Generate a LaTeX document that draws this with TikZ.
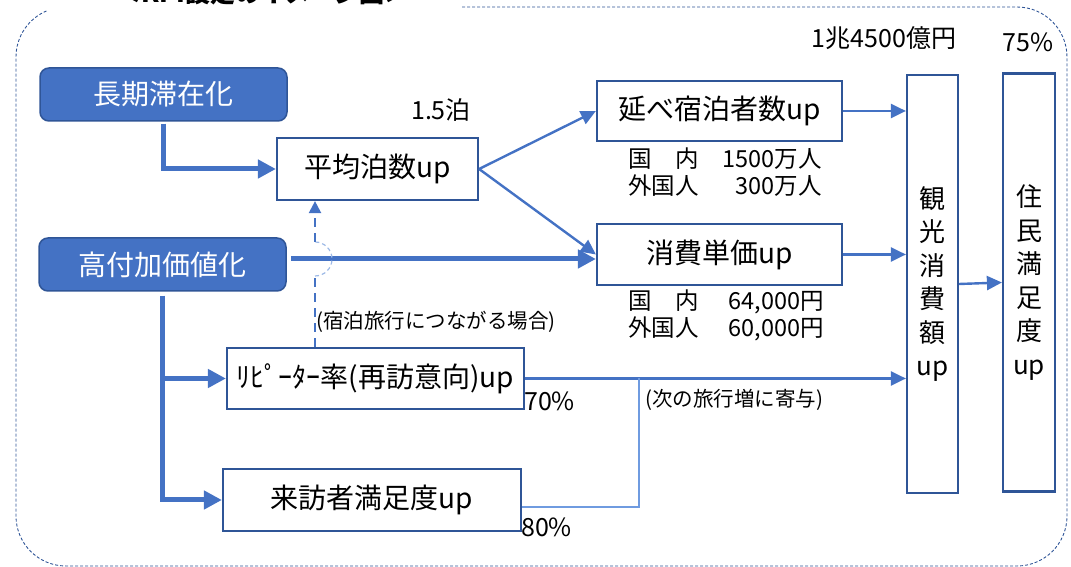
\documentclass[tikz,border=0pt]{standalone}
\usepackage{fontspec}
\setmainfont{Noto Sans CJK JP}
\usetikzlibrary{arrows.meta,calc}
\definecolor{kpiblue}{HTML}{4472C4}
\definecolor{kpiedge}{HTML}{2F5597}
\definecolor{kpilight}{HTML}{6F9BE0}
\definecolor{kpihop}{HTML}{9DB9E6}
\tikzset{
  keybox/.style={draw=kpiedge, line width=1.5pt, fill=kpiblue, rounded corners=9pt, text=white,
    minimum width=247pt, minimum height=53pt, font=\fontsize{28}{32}\selectfont},
  kpibox/.style={draw=kpiedge, line width=2.2pt, fill=white, inner sep=0pt, font=\fontsize{28}{32}\selectfont},
  tallbox/.style={draw=kpiedge, line width=2.2pt, minimum width=51pt, minimum height=418pt, inner sep=0pt,
    align=center, font=\fontsize{26}{33.5}\selectfont},
  fatarrow/.style={draw=kpiblue, line width=5pt, -{Triangle[length=18pt,width=18pt]}},
  thinarrow/.style={draw=kpiblue, line width=2.4pt, -{Triangle[length=15pt,width=14pt]}},
  dasharrow/.style={draw=kpiblue, line width=2.2pt, dash pattern=on 9pt off 6pt},
  note/.style={font=\fontsize{25}{28}\selectfont, inner sep=0pt},
  datanote/.style={font=\fontsize{23.5}{25}\selectfont, inner sep=0pt, anchor=west},
  remark/.style={font=\fontsize{20.5}{24}\selectfont, inner sep=0pt, anchor=west},
}

\begin{document}
\begin{tikzpicture}[x=1pt,y=1pt]
			%%%%% START %%%%%
			\useasboundingbox (0,0) rectangle (1071,567);
			
			% dashed frame, open under the title
			\draw[kpiedge, line width=0.9pt, dash pattern=on 3pt off 2pt] (462,560) -- (1017,560)
			  arc[start angle=90, end angle=0, radius=50pt] -- (1067,51)
			  arc[start angle=0, end angle=-90, radius=50pt] -- (66,1)
			  arc[start angle=270, end angle=180, radius=50pt] -- (16,510)
			  arc[start angle=180, end angle=112, radius=50pt];
			\node[font=\fontsize{25}{30}\selectfont\bfseries, anchor=base, inner sep=0pt] (title) at (263,564) {＜KPI設定のイメージ図＞};
			
			\node[keybox] (stay) at (163.5,472.5) {長期滞在化};
			\node[keybox] (value) at (162.5,302.5) {高付加価値化};
			
			\node[kpibox, minimum width=201pt, minimum height=62pt] (avgnight) at (377.5,398) {平均泊数up};
			\node[kpibox, minimum width=245pt, minimum height=60pt] (guests) at (719.5,456) {延べ宿泊者数up};
			\node[kpibox, minimum width=245pt, minimum height=61pt] (unitprice) at (719.5,312.5) {消費単価up};
			\node[kpibox, minimum width=297pt, minimum height=61pt] (repeater) at (375.5,188.5) {ﾘﾋﾟｰﾀｰ率(再訪意向)up};
			\node[kpibox, minimum width=298pt, minimum height=62pt] (visitor) at (372,67) {来訪者満足度up};
			
			\node[tallbox] (spend) at (932.5,283) {観\\光\\消\\費\\額\\up};
			\node[tallbox, minimum width=52pt] (resident) at (1029,284.5) {住\\民\\満\\足\\度\\up};
			
			% targets
			\node[note] (nightsval) at (441,457) {1.5泊};
			\node[note] (spendval) at (884,529) {1兆4500億円};
			\node[note] (residentval) at (1028,525) {75\%};
			\node[datanote] (guestsval) at (628,392) {\begin{tabular}{@{}l@{\hspace{24pt}}r@{}}国　内 & 1500万人\\外国人 & 300万人\end{tabular}};
			\node[datanote] (unitval) at (628,250) {\begin{tabular}{@{}l@{\hspace{30pt}}r@{}}国　内 & 64,000円\\外国人 & 60,000円\end{tabular}};
			\node[note, anchor=west] (repeaterval) at (524,166) {70\%};
			\node[note, anchor=west] (visitorval) at (521,40) {80\%};
			\node[remark] (staynote) at (316,245) {(宿泊旅行につながる場合)};
			\node[remark] (tripnote) at (645,167) {(次の旅行増に寄与)};
			
			% thick arrows from the two policies
			\draw[fatarrow, shorten <=2pt] (stay.south) |- (avgnight.west);
			\draw[fatarrow] ([xshift=4pt,yshift=5.5pt]value.east) -- ([yshift=-4.5pt]unitprice.west);
			\draw[fatarrow, shorten <=4pt] (value.south) |- (visitor.west);
			\draw[fatarrow] (value.south |- repeater.west) -- (repeater.west);
			
			% dashed link with a hop over the thick arrow
			\coordinate (dashx) at (315,0);
			\draw[dasharrow] (dashx |- repeater.north) -- (315,291);
			\draw[kpihop, line width=1.2pt, dash pattern=on 4pt off 3pt] (315,291) arc[start angle=-90, end angle=90, radius=17pt];
			\draw[dasharrow, -{Triangle[length=12pt,width=12pt]}] (315,325) -- (dashx |- avgnight.south);
			
			\draw[thinarrow] (avgnight.east) -- (guests.west);
			\draw[thinarrow] (avgnight.east) -- (unitprice.west);
			\draw[thinarrow] (guests.east) -- (guests.east -| spend.west);
			\draw[thinarrow] (unitprice.east) -- (unitprice.east -| spend.west);
			\draw[thinarrow] (repeater.east) -- (repeater.east -| spend.west);
			\coordinate (join) at ([xshift=114pt]repeater.east);
			\draw[kpilight, line width=1.6pt] ([yshift=-7pt]visitor.east) -| (join);
			\draw[thinarrow] (spend.east) -- (resident.west);
			
			%%%%% END %%%%%
\end{tikzpicture}
\end{document}
